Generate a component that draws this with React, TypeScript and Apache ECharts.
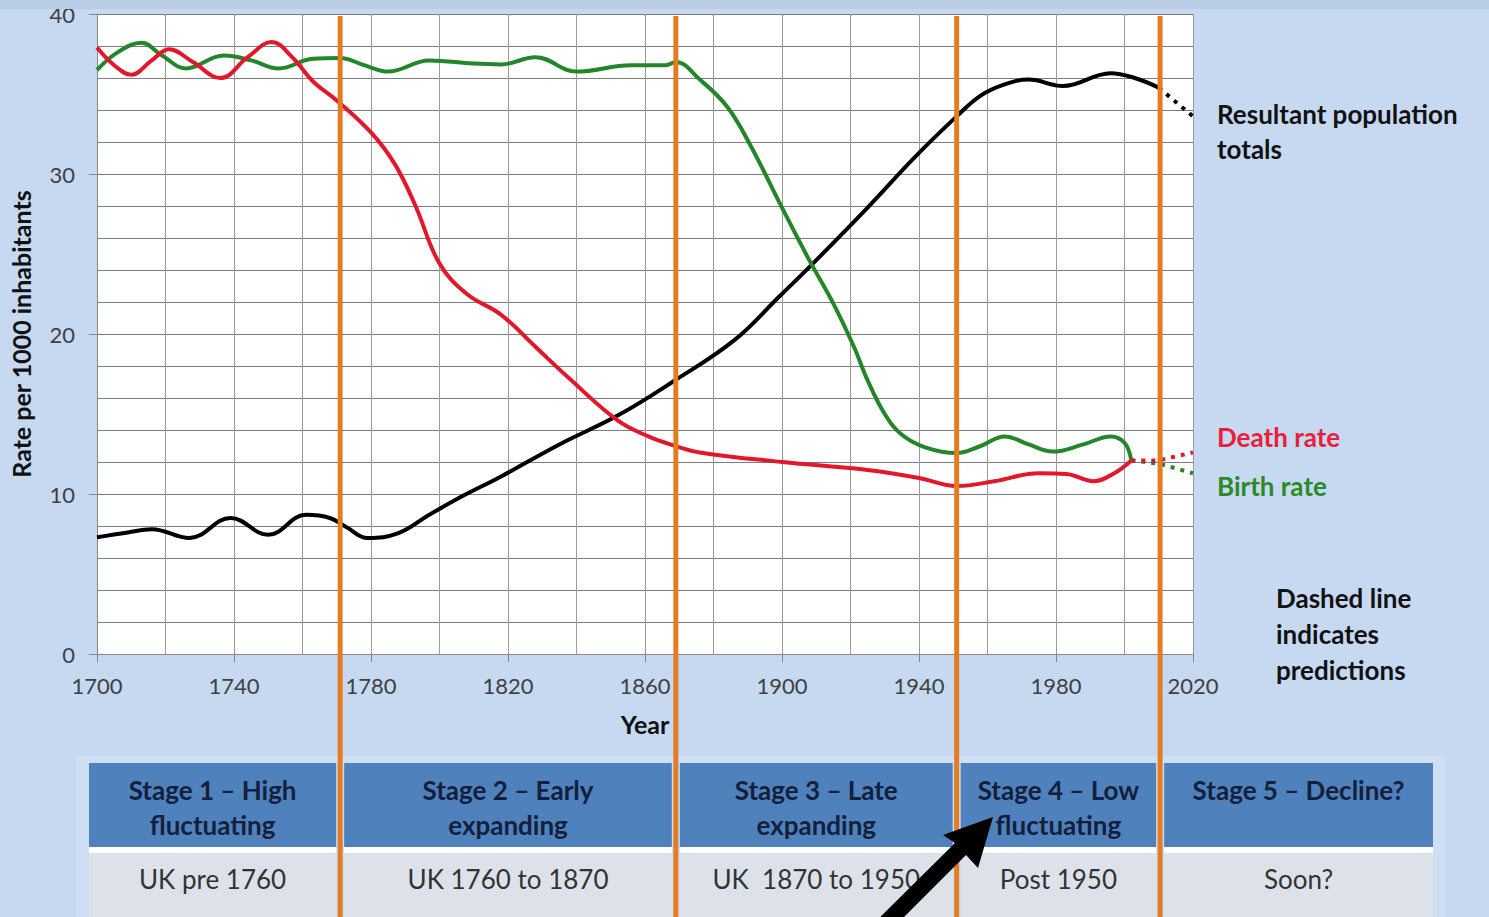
import React, { useEffect, useRef } from "react";
import * as echarts from "echarts";

// ---- data ----
const birthYears = [1700, 1706, 1713, 1719, 1726, 1737, 1745, 1753, 1763, 1771, 1778, 1785, 1797, 1810, 1818, 1828, 1840, 1856, 1866, 1869, 1876, 1884, 1891, 1900, 1908, 1915, 1921, 1925, 1930, 1935, 1942, 1951, 1958, 1965, 1972, 1979, 1988, 1996, 2000, 2002];
const birthRate = [36.5, 37.6, 38.2, 37.4, 36.6, 37.4, 37.1, 36.6, 37.2, 37.25, 36.8, 36.4, 37.1, 36.9, 36.85, 37.3, 36.4, 36.8, 36.8, 37.0, 35.9, 34.2, 31.7, 27.9, 24.6, 21.9, 19.2, 17.1, 15.0, 13.7, 12.9, 12.56, 13.0, 13.6, 13.1, 12.65, 13.1, 13.6, 13.2, 12.1];

const deathYears = [1700, 1705, 1710, 1716, 1721, 1728, 1736, 1744, 1751, 1757, 1763, 1770, 1780, 1787, 1793, 1800, 1808, 1818, 1828, 1838, 1852, 1861, 1868, 1876, 1900, 1925, 1940, 1951, 1962, 1975, 1983, 1991, 1997, 2002];
const deathRate = [37.9, 36.8, 36.2, 37.1, 37.8, 37.0, 36.0, 37.3, 38.25, 37.3, 35.8, 34.6, 32.6, 30.6, 28.0, 24.4, 22.5, 21.2, 19.2, 17.2, 14.6, 13.6, 13.06, 12.6, 12.0, 11.5, 11.0, 10.5, 10.8, 11.3, 11.25, 10.8, 11.3, 12.1];

const popYears = [1700, 1709, 1716, 1727, 1739, 1750, 1761, 1768, 1773, 1779, 1788, 1797, 1807, 1818, 1835, 1852, 1868, 1886, 1899, 1909, 1925, 1939, 1951, 1958, 1965, 1972, 1982, 1996, 2003, 2010];
const popTotal = [7.3, 7.6, 7.8, 7.25, 8.5, 7.45, 8.7, 8.5, 7.9, 7.25, 7.55, 8.7, 9.9, 11.1, 13.1, 14.9, 17.0, 19.6, 22.3, 24.4, 27.9, 31.1, 33.6, 34.9, 35.6, 35.9, 35.5, 36.3, 36.0, 35.4];

const birthPredYears = [2002, 2010, 2020];
const birthPred = [12.1, 11.9, 11.3];
const deathPredYears = [2002, 2010, 2020];
const deathPred = [12.1, 12.1, 12.6];
const popPredYears = [2010, 2020];
const popPred = [35.4, 33.6];

const stageBoundaries = [1771, 1869, 1951, 2010.4];
const stageTitles = ["Stage 1 – High\nfluctuating", "Stage 2 – Early\nexpanding", "Stage 3 – Late\nexpanding", "Stage 4 – Low\nfluctuating", "Stage 5 – Decline?"];
const stagePeriods = ["UK pre 1760", "UK 1760 to 1870", "UK  1870 to 1950", "Post 1950", "Soon?"];

const pairs = (xs: number[], ys: number[]) => xs.map((x, i) => [x, ys[i]]);

const FONT = "Lato, 'Open Sans', sans-serif";
const RED = "#e3172a";
const GREEN = "#23862a";
const ORANGE = "#e47c22";

export default function App() {
  const ref = useRef<HTMLDivElement>(null);
  useEffect(() => {
    if (!ref.current) return;
    const chart = echarts.init(ref.current, undefined, { renderer: "svg" });
    const lineBase = { type: "line", smooth: 0.4, showSymbol: false, symbol: "none", z: 3 };
    chart.setOption({
      animation: false,
      backgroundColor: "#c6d9f1",
      grid: { left: 97, top: 14, width: 1096, height: 640, show: true, backgroundColor: "#ffffff", borderWidth: 0 },
      xAxis: {
        type: "value", min: 1700, max: 2020, interval: 40,
        name: "Year", nameLocation: "middle", nameGap: 57,
        nameTextStyle: { fontFamily: FONT, fontSize: 25, fontWeight: "bold", color: "#111" },
        axisLine: { show: true, lineStyle: { color: "#868686", width: 1 } },
        axisTick: { show: true, length: 8, lineStyle: { color: "#868686" } },
        axisLabel: { formatter: (v: number) => String(v), fontFamily: FONT, fontSize: 22, color: "#404040", margin: 20 },
        splitLine: { show: true, lineStyle: { color: "#9a9a9a", width: 1 } },
        minorTick: { show: false, splitNumber: 2 },
        minorSplitLine: { show: true, lineStyle: { color: "#9a9a9a", width: 1 } },
      },
      yAxis: {
        type: "value", min: 0, max: 40, interval: 10,
        name: "Rate per 1000 inhabitants", nameLocation: "middle", nameGap: 64, nameRotate: 90,
        nameTextStyle: { fontFamily: FONT, fontSize: 25, fontWeight: "bold", color: "#111" },
        axisLine: { show: true, lineStyle: { color: "#868686", width: 1 } },
        axisTick: { show: true, length: 8, lineStyle: { color: "#868686" } },
        axisLabel: { fontFamily: FONT, fontSize: 22, color: "#404040", margin: 22 },
        splitLine: { show: true, lineStyle: { color: "#7d7d7d", width: 1 } },
        minorTick: { show: false, splitNumber: 5 },
        minorSplitLine: { show: true, lineStyle: { color: "#7d7d7d", width: 1 } },
      },
      series: [
        { ...lineBase, name: "Population", data: pairs(popYears, popTotal), lineStyle: { color: "#000", width: 4 } },
        { ...lineBase, name: "Birth rate", data: pairs(birthYears, birthRate), lineStyle: { color: GREEN, width: 4 } },
        { ...lineBase, name: "Death rate", data: pairs(deathYears, deathRate), lineStyle: { color: RED, width: 4 } },
        { ...lineBase, smooth: false, name: "Birth pred", data: pairs(birthPredYears, birthPred), lineStyle: { color: GREEN, width: 4, type: [4, 6] } },
        { ...lineBase, smooth: false, name: "Death pred", data: pairs(deathPredYears, deathPred), lineStyle: { color: RED, width: 4, type: [4, 6] } },
        { ...lineBase, smooth: false, name: "Pop pred", data: pairs(popPredYears, popPred), lineStyle: { color: "#000", width: 4, type: [4, 6] } },
      ],
    });

    const xs = stageBoundaries.map((y) => chart.convertToPixel({ xAxisIndex: 0 }, y) as number);
    const topY = chart.convertToPixel({ yAxisIndex: 0 }, 40) as number;
    const tableLeft = 89;
    const tableRight = 1433;
    const edges = [tableLeft, ...xs, tableRight];
    const headTop = 763, headBottom = 847, rowTop = 853, rowBottom = 917;

    const graphics: any[] = [];
    graphics.push({ type: "rect", z: 40, shape: { x: 76, y: 756, width: 1369, height: 170 }, style: { fill: "rgba(255,255,255,0.16)" } });
    for (let i = 0; i < 5; i++) {
      const x0 = i === 0 ? edges[0] : edges[i] + 4;
      const x1 = i === 4 ? edges[5] : edges[i + 1] - 4;
      const cx = (x0 + x1) / 2;
      graphics.push({ type: "rect", z: 41, shape: { x: x0, y: headTop, width: x1 - x0, height: headBottom - headTop }, style: { fill: "#4f81bd" } });
      graphics.push({ type: "rect", z: 41, shape: { x: x0, y: headBottom, width: x1 - x0, height: rowTop - headBottom }, style: { fill: "#ffffff" } });
      graphics.push({ type: "rect", z: 41, shape: { x: x0, y: rowTop, width: x1 - x0, height: rowBottom - rowTop }, style: { fill: "#dde2ea" } });
      graphics.push({
        type: "text", z: 42, x: cx, y: i === 4 ? 790 : 807,
        style: { text: stageTitles[i], align: "center", verticalAlign: "middle", fontFamily: FONT, fontSize: 26, fontWeight: "bold", lineHeight: 35, fill: "#13203c" },
      });
      graphics.push({
        type: "text", z: 42, x: cx, y: 879,
        style: { text: stagePeriods[i], align: "center", verticalAlign: "middle", fontFamily: FONT, fontSize: 26, fill: "#333333" },
      });
    }
    xs.forEach((x) => {
      graphics.push({ type: "line", z: 60, shape: { x1: x, y1: topY + 2, x2: x, y2: 930 }, style: { stroke: ORANGE, lineWidth: 5 } });
    });
    graphics.push({ type: "text", z: 42, x: 1217, y: 96, style: { text: "Resultant population\ntotals", fontFamily: FONT, fontSize: 26, fontWeight: "bold", lineHeight: 35, fill: "#111" } });
    graphics.push({ type: "text", z: 42, x: 1217, y: 437, style: { text: "Death rate", verticalAlign: "middle", fontFamily: FONT, fontSize: 26, fontWeight: "bold", fill: "#e8203a" } });
    graphics.push({ type: "text", z: 42, x: 1217, y: 486, style: { text: "Birth rate", verticalAlign: "middle", fontFamily: FONT, fontSize: 26, fontWeight: "bold", fill: "#2a8a2a" } });
    graphics.push({ type: "text", z: 42, x: 1276, y: 580, style: { text: "Dashed line\nindicates\npredictions", fontFamily: FONT, fontSize: 26, fontWeight: "bold", lineHeight: 36, fill: "#111" } });
    graphics.push({
      type: "polygon", z: 70,
      shape: { points: [[862, 935], [955, 843], [943, 835], [993, 817], [978, 868], [966, 855], [875, 946]] },
      style: { fill: "#000" },
    });
    graphics.push({ type: "rect", z: 80, shape: { x: 0, y: 0, width: 1489, height: 9 }, style: { fill: "#b8cce4" } });

    chart.setOption({ graphic: graphics });
    return () => chart.dispose();
  }, []);
  return <div ref={ref} style={{ position: "fixed", left: 0, top: 0, width: 1489, height: 917 }} />;
}
